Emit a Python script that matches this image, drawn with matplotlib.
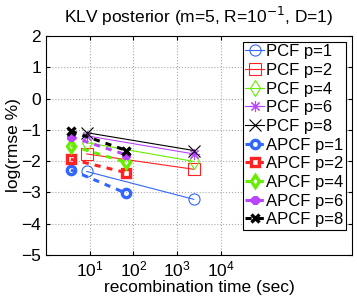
import matplotlib.pyplot as plt

plt.rcParams['font.family'] = ['Liberation Sans', 'DejaVu Sans']

# recombination time (sec)
pcf_time = [8.5, 2400]
apcf_time = [3.7, 69]

labels_p = ['p=1', 'p=2', 'p=4', 'p=6', 'p=8']
colors = ['#3366ff', '#ff2222', '#66ee00', '#bb44ff', '#000000']
markers = ['o', 's', 'd', (8, 2, 0), 'x']

# log(rmse %)
pcf_err = [
    [-2.33, -3.22],
    [-1.77, -2.26],
    [-1.41, -2.01],
    [-1.19, -1.77],
    [-1.09, -1.66],
]
apcf_err = [
    [-2.28, -3.03],
    [-1.94, -2.37],
    [-1.50, -2.04],
    [-1.22, -1.80],
    [-1.04, -1.66],
]

fig = plt.figure(figsize=(3.57, 3.0), dpi=100)
ax = fig.add_axes([0.129, 0.15, 0.857, 0.73])

for i in range(5):
    ax.plot(pcf_time, pcf_err[i], color=colors[i], marker=markers[i],
            markersize=8, markerfacecolor='none', linewidth=0.8,
            markeredgewidth=0.8, label='PCF ' + labels_p[i])
for i in range(5):
    ax.plot(apcf_time, apcf_err[i], color=colors[i], marker=markers[i],
            markersize=6, markerfacecolor='none', markeredgewidth=2.4,
            linewidth=2.2, linestyle='--', dashes=(2, 2),
            label='APCF ' + labels_p[i])

ax.set_xscale('log')
ax.set_xlim(1, 1e7)
ax.set_xticks([10, 100, 1000, 10000])
ax.minorticks_off()
ax.set_ylim(-5, 2)
ax.set_yticks(range(-5, 3))
ax.set_yticklabels(['\u22125', '\u22124', '\u22123', '\u22122', '\u22121', '0', '1', '2'])
ax.tick_params(labelsize=12.5, direction='in', top=True, right=True, length=3)
ax.grid(True, linestyle=':', color='#aaaaaa', linewidth=0.8)

ax.set_xlabel('recombination time (sec)', fontsize=12.5, labelpad=0)
ax.set_ylabel('log(rmse %)', fontsize=12.5, labelpad=0)
ax.set_title('KLV posterior (m=5, R=10$^{-1}$, D=1)', fontsize=12.5, pad=9)

leg = ax.legend(loc='upper right', fontsize=12, handlelength=1.1,
                handletextpad=0.15, labelspacing=0.22, borderpad=0.15,
                borderaxespad=0.35, fancybox=False, framealpha=1)
leg.get_frame().set_edgecolor('black')
leg.get_frame().set_linewidth(0.8)

fig.savefig('out.png', dpi=100)
